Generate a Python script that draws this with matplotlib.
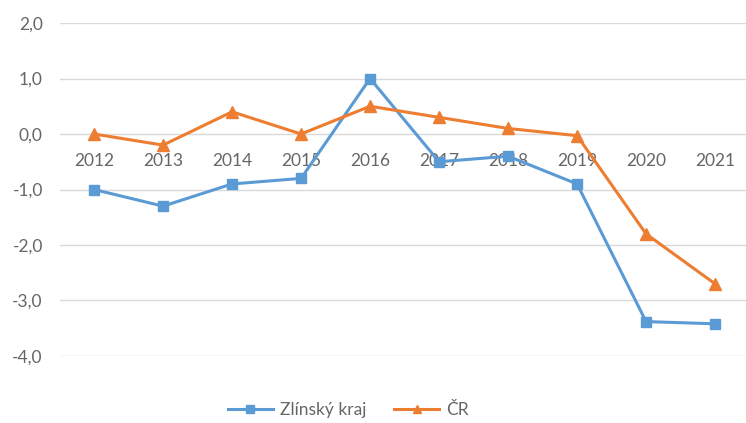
import matplotlib
matplotlib.use('Agg')
import matplotlib.pyplot as plt
from matplotlib.ticker import FuncFormatter

# data
years = ['2012', '2013', '2014', '2015', '2016', '2017', '2018', '2019', '2020', '2021']
zlinsky = [-1.0, -1.3, -0.9, -0.8, 1.0, -0.5, -0.4, -0.9, -3.38, -3.42]
cr = [0.0, -0.2, 0.4, 0.0, 0.5, 0.3, 0.1, -0.03, -1.8, -2.7]

plt.rcParams['font.family'] = ['Lato', 'DejaVu Sans']

fig = plt.figure(figsize=(7.46, 4.23), dpi=100)
ax = fig.add_axes([0.0798, 0.1584, 0.925, 0.7872])

x = list(range(len(years)))
ax.plot(x, zlinsky, color='#5B9BD5', lw=2.2, marker='s', ms=7, label='Zlínský kraj')
ax.plot(x, cr, color='#ED7D31', lw=2.2, marker='^', ms=8, label='ČR')

ax.set_xlim(-0.5, len(years) - 0.5)
ax.set_ylim(-4, 2)
ax.set_yticks([-4, -3, -2, -1, 0, 1, 2])
ax.yaxis.set_major_formatter(FuncFormatter(lambda v, p: ('%.1f' % v).replace('.', ',')))
ax.grid(axis='y', color='#d9d9d9', lw=1)
ax.set_axisbelow(True)

ax.set_xticks(x)
ax.set_xticklabels(years)
for s in ['top', 'right', 'left']:
    ax.spines[s].set_visible(False)
ax.spines['bottom'].set_position(('data', 0))
ax.spines['bottom'].set_visible(False)
ax.tick_params(axis='x', length=0, pad=14, labelsize=12.5, labelcolor='#666666')
ax.tick_params(axis='y', length=0, pad=12, labelsize=12.5, labelcolor='#666666')

leg = fig.legend(loc='center', bbox_to_anchor=(0.467, 0.03), ncol=2, frameon=False,
                 fontsize=12.5, handlelength=2.6, markerscale=0.8, columnspacing=1.6,
                 handletextpad=0.4)
for t in leg.get_texts():
    t.set_color('#666666')

fig.savefig('out.png', dpi=100)
